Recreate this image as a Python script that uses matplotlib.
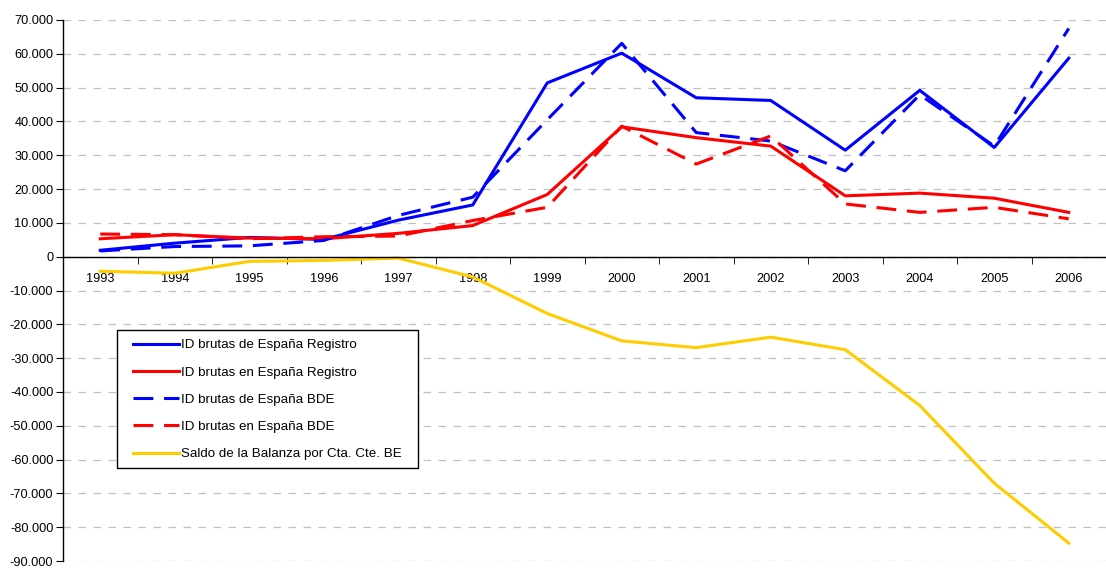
import numpy as np
import matplotlib
matplotlib.use("Agg")
import matplotlib.pyplot as plt
from matplotlib.ticker import FuncFormatter, FixedLocator
from matplotlib.patches import Rectangle

plt.rcParams['font.family'] = ['Liberation Sans', 'DejaVu Sans']

# Data (millones de euros)
years = ["1993", "1994", "1995", "1996", "1997", "1998", "1999",
         "2000", "2001", "2002", "2003", "2004", "2005", "2006"]
id_de_registro = [1900, 4000, 5700, 5100, 10800, 15300, 51400,
                  60200, 47000, 46200, 31500, 49200, 32300, 58700]
id_en_registro = [5300, 6500, 5500, 5300, 6900, 9200, 18400,
                  38400, 35200, 32700, 18000, 18800, 17300, 13100]
id_de_bde = [1700, 3000, 3200, 4800, 12200, 17600, 40500,
             63100, 36700, 34200, 25400, 47900, 32700, 67500]
id_en_bde = [6700, 6500, 5300, 5900, 6100, 10700, 14600,
             38600, 27400, 35700, 15600, 13100, 14600, 11200]
saldo_cc = [-4300, -4900, -1400, -1100, -400, -6000, -16800,
            -24900, -26900, -23800, -27500, -44000, -67000, -84700]

x = np.arange(len(years))
W, H = 1106, 569

fig = plt.figure(figsize=(W / 100, H / 100), dpi=100)
ax = fig.add_axes([63 / W, 1 - 561 / H, 1 - 63 / W, (561 - 20) / H])

lw = 2.2
ax.plot(x, id_de_registro, color="#0000FF", lw=lw, label="ID brutas de España Registro")
ax.plot(x, id_en_registro, color="#FF0000", lw=lw, label="ID brutas en España Registro")
ax.plot(x, id_de_bde, color="#0000FF", lw=lw, dashes=(6.5, 3.5), label="ID brutas de España BDE")
ax.plot(x, id_en_bde, color="#FF0000", lw=lw, dashes=(6.5, 3.5), label="ID brutas en España BDE")
ax.plot(x, saldo_cc, color="#FFCC00", lw=lw, label="Saldo de la Balanza por Cta. Cte. BE")

ax.set_xlim(-0.5, len(years) - 0.5)
ax.set_ylim(-90000, 70000)
ax.set_yticks(np.arange(-90000, 70001, 10000))
ax.yaxis.set_major_formatter(FuncFormatter(lambda v, p: f"{int(v):,}".replace(",", ".")))
ax.grid(axis="y", color="#c0c0c0", lw=0.9, dashes=(6, 6))
ax.set_axisbelow(True)

# category axis sitting on zero
ax.spines["top"].set_visible(False)
ax.spines["right"].set_visible(False)
ax.spines["bottom"].set_position(("data", 0))
ax.spines["left"].set_linewidth(1.0)
ax.spines["bottom"].set_linewidth(1.0)
ax.set_xticks(x)
ax.set_xticklabels(years)
ax.xaxis.set_minor_locator(FixedLocator(np.arange(-0.5, len(years), 1)))
ax.tick_params(axis="x", which="major", length=0, pad=12, labelsize=9.2)
ax.tick_params(axis="x", which="minor", length=5, direction="out")
ax.tick_params(axis="y", length=5, direction="out", labelsize=9.2, pad=2)

# legend box drawn by hand, entries placed inside it
box = Rectangle((117 / W, 1 - 468 / H), (418 - 117) / W, (468 - 330) / H,
                transform=fig.transFigure, facecolor="white",
                edgecolor="black", lw=1.0, zorder=5, clip_on=False)
ax.add_patch(box)
leg = ax.legend(loc="upper left", bbox_to_anchor=(133 / W, 1 - 339 / H),
                bbox_transform=fig.transFigure, fontsize=9.6, frameon=False,
                borderpad=0, labelspacing=1.12, handlelength=3.45,
                handletextpad=0.15, borderaxespad=0)
leg.set_zorder(6)

fig.savefig("out.png", dpi=100)
